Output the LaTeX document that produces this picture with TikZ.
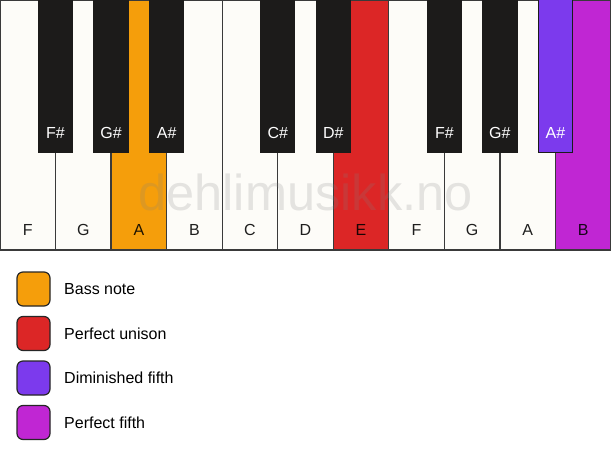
\documentclass[tikz,border=0pt]{standalone}
\usepackage{fontspec}
\setmainfont{Liberation Sans}
\definecolor{wkey}{HTML}{FDFCF8}
\definecolor{bkey}{HTML}{1C1B1A}
\definecolor{keyline}{HTML}{3A3A3A}
\definecolor{bassc}{HTML}{F59E0B}
\definecolor{unisonc}{HTML}{DC2626}
\definecolor{dimc}{HTML}{7C3AED}
\definecolor{perfc}{HTML}{C026D3}
\begin{document}
\begin{tikzpicture}[x=1pt,y=1pt,
  whitekey/.style={draw=keyline,line width=1.3pt,fill=wkey},
  blackkey/.style={draw=bkey,line width=1pt,fill=bkey},
  wlabel/.style={font=\fontsize{16}{19}\selectfont,text=black,text opacity=0.88,anchor=center},
  blabel/.style={font=\fontsize{16}{19}\selectfont,text=white,anchor=center},
  legbox/.style={draw=black!85,line width=1.2pt,rounded corners=6pt,minimum width=33pt,minimum height=34pt,inner sep=0pt},
  legtext/.style={font=\fontsize{16}{19}\selectfont,anchor=west,inner sep=0pt}]
\useasboundingbox (0,0) rectangle (611,-461);
\fill[white] (0,0) rectangle (611,-461);
% white keys
\def\kw{55.545}
\foreach \n/\lab/\col [count=\i from 0] in {F/F/wkey,G/G/wkey,A/A/bassc,B/B/wkey,C/C/wkey,D/D/wkey,E/E/unisonc,F2/F/wkey,G2/G/wkey,A2/A/wkey,B2/B/perfc}{
  \draw[whitekey,fill=\col] ({\i*\kw},0) rectangle ({(\i+1)*\kw},-250);
  \node[wlabel] (w\n) at ({(\i+0.5)*\kw},-230) {\lab};
}
% watermark
\node[font=\fontsize{50.5}{56}\selectfont,text=black!50,text opacity=0.2] (wm) at (305.5,-192) {dehlimusikk.no};
% black keys
\foreach \n/\lab/\k/\col in {Fs/F\#/1/bkey,Gs/G\#/2/bkey,As/A\#/3/bkey,Cs/C\#/5/bkey,Ds/D\#/6/bkey,Fs2/F\#/8/bkey,Gs2/G\#/9/bkey,As2/A\#/10/dimc}{
  \draw[blackkey,fill=\col,draw=bkey] ({\k*\kw-17.2},0.5) rectangle ({\k*\kw+17.2},-152.5);
  \node[blabel] (b\n) at ({\k*\kw},-132.5) {\lab};
}
% legend
\foreach \n/\col/\txt [count=\j from 0] in {bass/bassc/Bass note,unison/unisonc/Perfect unison,dim/dimc/Diminished fifth,perf/perfc/Perfect fifth}{
  \node[legbox,fill=\col] (box\n) at (33.5,{-289-44.5*\j}) {};
  \node[legtext] (txt\n) at (64,{-289-44.5*\j}) {\txt};
}
\end{tikzpicture}
\end{document}
